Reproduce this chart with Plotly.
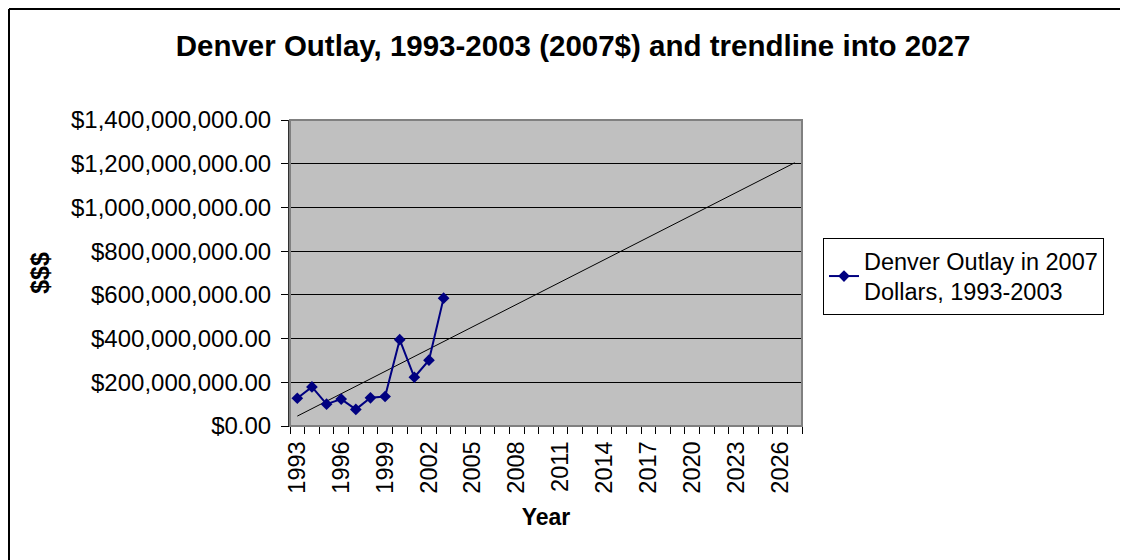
import numpy as np
import plotly.graph_objects as go

# ---- data ----
years = [1993, 1994, 1995, 1996, 1997, 1998, 1999, 2000, 2001, 2002, 2003]
outlay = [127e6, 179e6, 100e6, 123e6, 76e6, 129e6, 135e6, 395e6, 223e6, 301e6, 585e6]
trend_end_year = 2027
axis_years = list(range(1993, 2028))
tick_years = list(range(1993, 2028, 3))
tick_labels = [str(y) for y in tick_years]
y_ticks = [0, 2e8, 4e8, 6e8, 8e8, 10e8, 12e8, 14e8]

# linear trendline fitted on the data and extended to 2027
slope, intercept = np.polyfit(years, outlay, 1)
trend_x = [years[0], trend_end_year]
trend_y = [slope * x + intercept for x in trend_x]

FONT = "Arial, Liberation Sans, sans-serif"
NAVY = "#000080"

fig = go.Figure()
fig.add_trace(go.Scatter(
    x=trend_x, y=trend_y, mode="lines",
    line=dict(color="black", width=1), showlegend=False, hoverinfo="skip"))
fig.add_trace(go.Scatter(
    x=years, y=outlay, mode="lines+markers",
    name="Denver Outlay in 2007<br>Dollars, 1993-2003",
    line=dict(color=NAVY, width=2),
    marker=dict(symbol="diamond", size=9, color=NAVY)))

OFF = 8  # page body margin
W, H = 1128 - OFF, 560 - OFF
L, T = 290 - OFF, 120 - OFF
R = W - (802 - OFF)
B = H - (426 - OFF)
pw = W - L - R
ph = H - T - B

def px_x(p):
    return (p - OFF - L) / pw

def px_y(p):
    return (H - B - (p - OFF)) / ph

fig.update_layout(
    width=W, height=H,
    margin=dict(l=L, r=R, t=T, b=B, autoexpand=False),
    paper_bgcolor="white",
    plot_bgcolor="#C0C0C0",
    font=dict(family=FONT, color="black"),
    title=dict(text="<b>Denver Outlay, 1993-2003 (2007$) and trendline into 2027</b>",
               font=dict(size=29.5, family=FONT, color="black"),
               x=(573 - OFF) / W, xanchor="center", y=1 - (46 - OFF) / H, yanchor="middle"),
    xaxis=dict(
        range=[1992.5, 2027.5], tickmode="array", tickvals=tick_years, ticktext=tick_labels,
        tickangle=-90, tickfont=dict(size=23.5, family=FONT, color="black"),
        ticks="", showgrid=False, zeroline=False, ticklabelstandoff=5,
        showline=True, linecolor="black", linewidth=1,
        minor=dict(tickmode="array", tickvals=[y - 0.5 for y in axis_years] + [2027.5],
                   ticks="outside", ticklen=7, tickcolor="black", tickwidth=1, showgrid=False),
        title=dict(text="<b>Year</b>", font=dict(size=23, family=FONT, color="black"), standoff=16),
    ),
    yaxis=dict(
        range=[0, 1.4e9], tickmode="array", tickvals=y_ticks, tickformat="$,.2f",
        tickfont=dict(size=24, family=FONT, color="black"),
        ticks="outside", ticklen=7, tickcolor="black", ticklabelstandoff=5,
        showgrid=True, gridcolor="black", gridwidth=1, zeroline=False,
        showline=True, linecolor="#303030", linewidth=2,
        title=dict(text="<b>$$$</b>", font=dict(size=25, family=FONT, color="black"), standoff=14),
    ),
    legend=dict(
        x=px_x(823), y=px_y(238), xanchor="left", yanchor="top",
        bgcolor="white", bordercolor="black", borderwidth=1,
        font=dict(size=23.5, family=FONT, color="black"),
    ),
    shapes=[
        dict(type="rect", xref="paper", yref="paper", x0=0, y0=0, x1=1, y1=1,
             line=dict(color="#808080", width=2), layer="above"),
        # chart border (left and top edges visible in the frame)
        dict(type="line", xref="paper", yref="paper", x0=px_x(OFF + 1), x1=px_x(OFF + 1),
             y0=px_y(OFF + 1), y1=px_y(600), line=dict(color="black", width=2)),
        dict(type="line", xref="paper", yref="paper", x0=px_x(OFF + 1), x1=px_x(1200),
             y0=px_y(OFF + 1), y1=px_y(OFF + 1), line=dict(color="black", width=2)),
    ],
)

fig.write_html("out.html")
